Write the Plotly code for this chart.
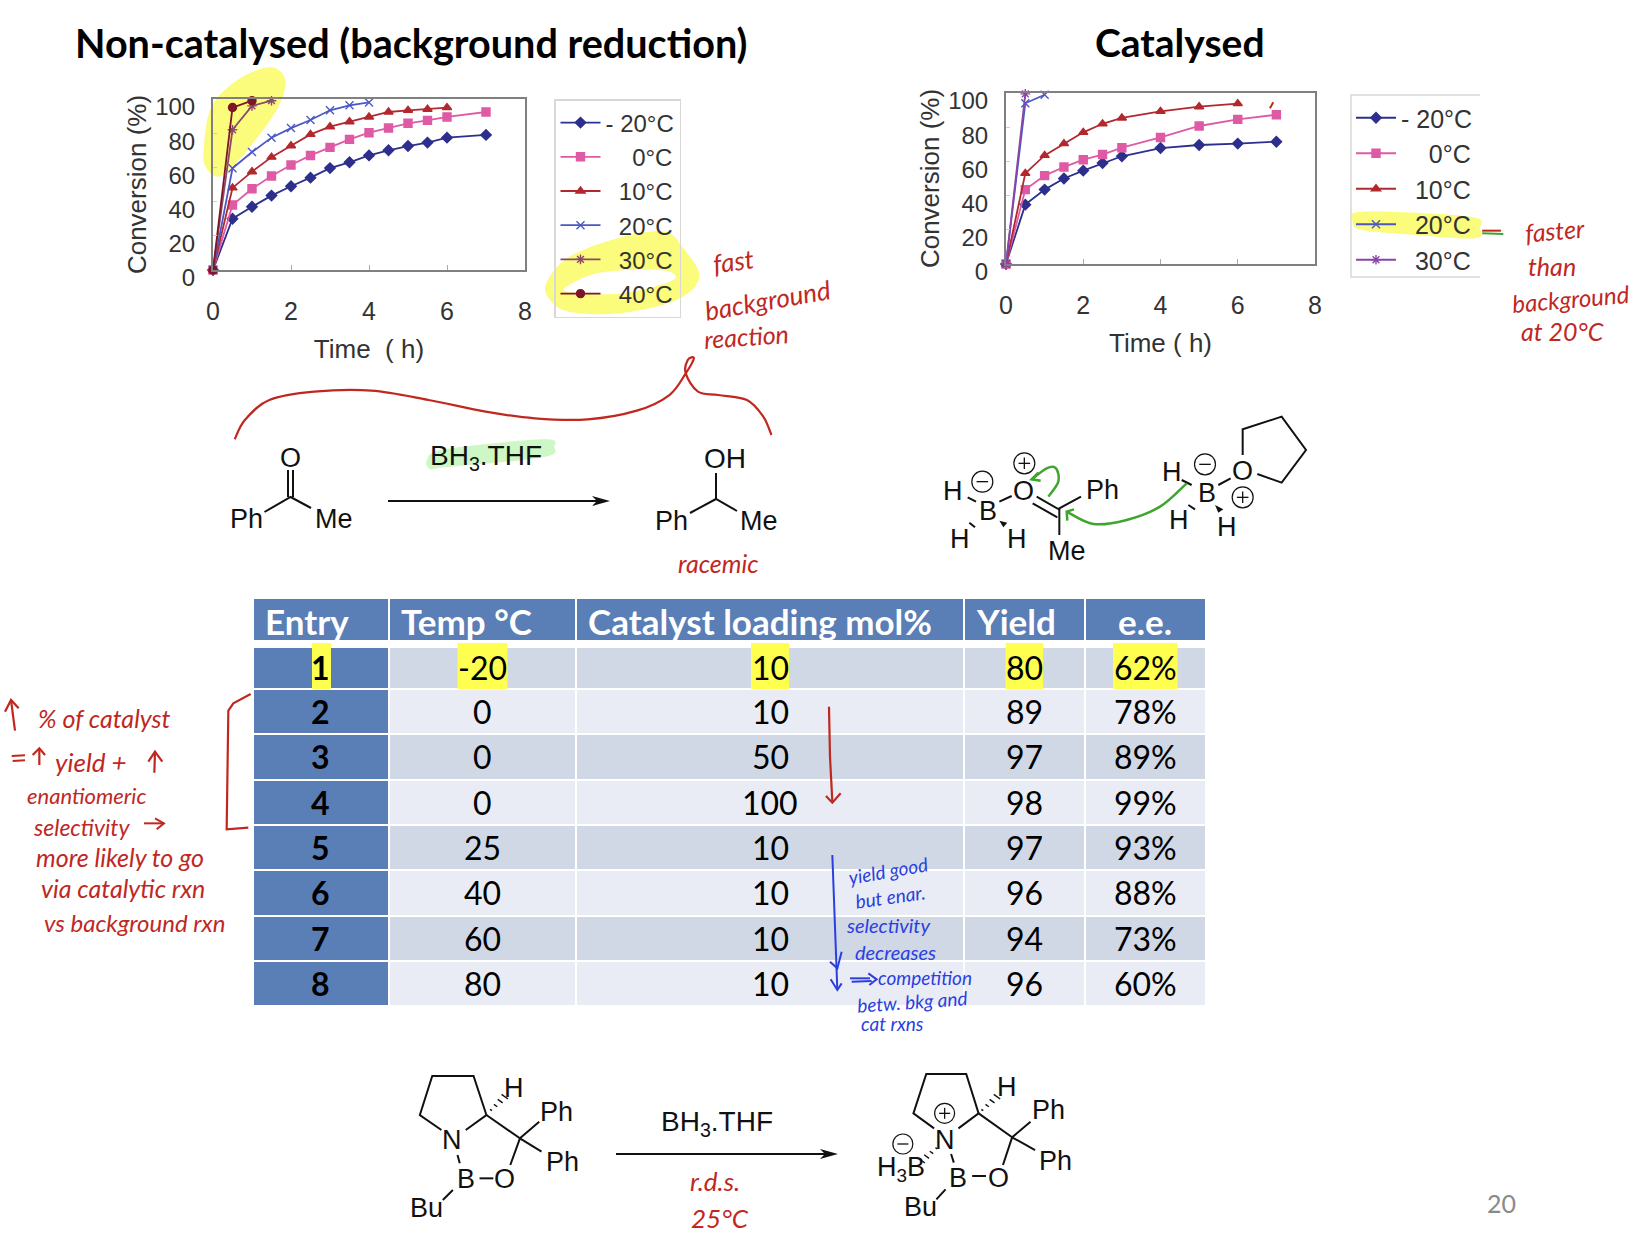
import plotly.graph_objects as go

W, H = 1636, 1240
# ---------- chart data ----------
temps_left = ["-20", "0", "10", "20", "30", "40"]
legend_left = ["-\u00a020°C", "\u00a0\u00a0\u00a0\u00a00°C", "\u00a0\u00a010°C", "\u00a0\u00a020°C", "\u00a0\u00a030°C", "\u00a0\u00a040°C"]
legend_right = ["-\u00a020°C", "\u00a0\u00a0\u00a0\u00a00°C", "\u00a0\u00a010°C", "\u00a0\u00a020°C", "\u00a0\u00a030°C"]
t_a = [0, .5, 1, 1.5, 2, 2.5, 3, 3.5, 4, 4.5, 5, 5.5, 6, 7]
t_b = [0, .5, 1, 1.5, 2, 2.5, 3, 3.5, 4, 4.5, 5, 5.5, 6]
t_c = [0, .5, 1, 1.5, 2, 2.5, 3, 3.5, 4]
t_d = [0, .5, 1, 1.5]
t_e = [0, .5, 1]
left_m20 = [0, 30, 37, 43.5, 49, 54, 59.6, 63, 67, 70, 72.5, 74.5, 77.4, 79]
left_0 = [0, 38, 47.5, 55, 61.4, 67, 71.7, 76.4, 80.3, 83, 85.8, 87.5, 89.5, 92.4]
left_10 = [0, 48, 57.5, 66, 72.7, 79.3, 83.8, 86.7, 89.5, 92.4, 93.4, 94, 95]
left_20 = [0, 59.5, 69, 77.4, 83, 87.7, 93.4, 96.3, 98]
left_30 = [0, 82, 96, 99]
left_40 = [0, 95, 99]
t_f = [0, .5, 1, 1.5, 2, 2.5, 3, 4, 5, 6, 7]
t_g = [0, .5, 1, 1.5, 2, 2.5, 3, 4, 5, 6]
t_h = [0, .5, 1]
t_i = [0, .5]
right_m20 = [0, 34.7, 43.5, 50, 54.6, 59, 63, 67.8, 69.6, 70.4, 71.5]
right_0 = [0, 43.5, 51.7, 56.7, 61, 64, 68, 74, 80.7, 84.6, 87.3]
right_10 = [0, 53, 63.5, 70.4, 77, 82, 85.4, 89.3, 92, 93.8]
right_20 = [0, 94, 99]
right_30 = [0, 99.5]
x_ticks = [0, 2, 4, 6, 8]
y_ticks = [0, 20, 40, 60, 80, 100]
# ---------- table data ----------
tbl_head = ["Entry", "Temp °C", "Catalyst loading mol%", "Yield", "e.e."]
tbl_entry = ["1", "2", "3", "4", "5", "6", "7", "8"]
tbl_temp = ["-20", "0", "0", "0", "25", "40", "60", "80"]
tbl_load = ["10", "10", "50", "100", "10", "10", "10", "10"]
tbl_yield = ["80", "89", "97", "98", "97", "96", "94", "96"]
tbl_ee = ["62%", "78%", "89%", "99%", "93%", "88%", "73%", "60%"]

NAVY, PINK, RED, BLUE, BROWN, MAROON, PURPLE = "#2d2f8c", "#df5aa5", "#b3282f", "#4b58c4", "#8a4a6a", "#7d1626", "#8b45a8"
HW_RED, HW_BLUE, GREEN = "#c0281f", "#2a3fe0", "#3ea52d"
AX, BLK = "#333333", "#111111"

def X(x): return x / W
def Y(y): return 1 - y / H

shapes, annos = [], []

def path_str(pts, closed=False, smooth=False):
    p = [(X(a), Y(b)) for a, b in pts]
    s = f"M{p[0][0]:.5f},{p[0][1]:.5f}"
    if smooth:
        n = len(p)
        for i in range(n - 1):
            p0 = p[i - 1] if i > 0 else (p[-1] if closed else p[0])
            p1, p2 = p[i], p[i + 1]
            p3 = p[i + 2] if i + 2 < n else (p[0] if closed else p[-1])
            c1 = (p1[0] + (p2[0] - p0[0]) / 6, p1[1] + (p2[1] - p0[1]) / 6)
            c2 = (p2[0] - (p3[0] - p1[0]) / 6, p2[1] - (p3[1] - p1[1]) / 6)
            s += f" C{c1[0]:.5f},{c1[1]:.5f} {c2[0]:.5f},{c2[1]:.5f} {p2[0]:.5f},{p2[1]:.5f}"
        if closed:
            p0, p1, p2, p3 = p[-2], p[-1], p[0], p[1]
            c1 = (p1[0] + (p2[0] - p0[0]) / 6, p1[1] + (p2[1] - p0[1]) / 6)
            c2 = (p2[0] - (p3[0] - p1[0]) / 6, p2[1] - (p3[1] - p1[1]) / 6)
            s += f" C{c1[0]:.5f},{c1[1]:.5f} {c2[0]:.5f},{c2[1]:.5f} {p2[0]:.5f},{p2[1]:.5f}"
    else:
        s += "".join(f" L{a:.5f},{b:.5f}" for a, b in p[1:])
    return s + (" Z" if closed else "")

def stroke(pts, color=BLK, w=2, smooth=False, layer="above"):
    shapes.append(dict(type="path", path=path_str(pts, smooth=smooth), xref="paper", yref="paper",
                       line=dict(color=color, width=w), layer=layer))

def blob(pts, fill, smooth=True, layer="below"):
    shapes.append(dict(type="path", path=path_str(pts, closed=True, smooth=smooth), xref="paper", yref="paper",
                       fillcolor=fill, line=dict(width=0), layer=layer))

def rect(x0, y0, x1, y1, fill, layer="below"):
    shapes.append(dict(type="rect", x0=X(x0), x1=X(x1), y0=Y(y1), y1=Y(y0), xref="paper", yref="paper",
                       fillcolor=fill, line=dict(width=0), layer=layer))

def txt(x, y, s, size=27, color=BLK, font="Liberation Sans", anchor="center", rot=0):
    annos.append(dict(x=X(x), y=Y(y), xref="paper", yref="paper", text=s, showarrow=False, xanchor=anchor,
                      yanchor="middle", textangle=rot, borderpad=0, borderwidth=0,
                      font=dict(size=size, color=color, family=font)))

def charge(x, y, sign, r=10):
    shapes.append(dict(type="circle", x0=X(x - r), x1=X(x + r), y0=Y(y + r), y1=Y(y - r), xref="paper", yref="paper",
                       line=dict(color=BLK, width=1.2)))
    stroke([(x - r * .55, y), (x + r * .55, y)], BLK, 1.3)
    if sign > 0:
        stroke([(x, y - r * .55), (x, y + r * .55)], BLK, 1.3)

def arrow(x0, x1, y, w=2):
    stroke([(x0, y), (x1 - 6, y)], BLK, w)
    blob([(x1, y), (x1 - 18, y - 5), (x1 - 13, y), (x1 - 18, y + 5)], BLK, smooth=False, layer="above")

def wedge(pts):
    blob(pts, BLK, smooth=False, layer="above")

# ---------- highlights (under the charts) ----------
Z1 = lambda a, b: (110 + a / 2.613, 50 + b / 3)
Z2 = lambda a, b: (900 + a / 2.13, 70 + b / 3)
YEL = "#fbfb7c"
blob([Z1(*p) for p in [(245, 300), (265, 170), (340, 85), (420, 52), (458, 90), (440, 170), (380, 270), (320, 350), (280, 380), (250, 350)]], YEL)
blob([Z1(*p) for p in [(1140, 700), (1200, 620), (1340, 560), (1450, 545), (1495, 590), (1540, 680), (1480, 750), (1330, 790), (1200, 785), (1150, 750)]], YEL)
blob([Z1(*p) for p in [(1190, 712), (1280, 668), (1440, 660), (1472, 690), (1340, 730), (1210, 728)]], "#ffffff")
blob([Z2(*p) for p in [(965, 455), (985, 425), (1215, 440), (1235, 475), (1225, 505), (1100, 495), (985, 480)]], YEL)

# frame of the second legend: its right side is cut off in the source
LEG2 = "#d8d8d8"
stroke([(1480, 95), (1351, 95), (1351, 277), (1480, 277)], LEG2, 1.5, layer="below")

# ---------- titles ----------
txt(411, 42, "<b>Non-catalysed (background reduction)</b>", 39.6, "#000000", "Lato")
txt(1180, 42, "<b>Catalysed</b>", 39, "#000000", "Lato")

# ---------- handwriting: first chart ----------
HW = "Lato"
txt(733, 261, "<i>fast</i>", 26, HW_RED, HW, rot=-8)
txt(767, 300, "<i>background</i>", 26, HW_RED, HW, rot=-10)
txt(746, 336, "<i>reaction</i>", 25, HW_RED, HW, rot=-4)
txt(1555, 230, "<i>faster</i>", 25, HW_RED, HW, rot=-5)
txt(1552, 266, "<i>than</i>", 25, HW_RED, HW)
txt(1570, 298, "<i>background</i>", 24, HW_RED, HW, rot=-5)
txt(1562, 331, "<i>at 20°C</i>", 25, HW_RED, HW)
stroke([Z2(1240, 482), Z2(1280, 482)], HW_RED, 2)
stroke([Z2(1240, 490), Z2(1285, 492)], GREEN, 2)
stroke([Z2(795, 97), Z2(788, 115)], HW_RED, 2)

# ---------- top reaction ----------
Z3 = lambda a, b: (200 + a / 2.45, 350 + b / 3)
stroke([Z3(*p) for p in [(85, 268), (110, 210), (170, 150), (280, 125), (420, 122), (560, 150), (700, 185), (820, 205), (950, 208), (1070, 182), (1150, 135), (1190, 70), (1210, 25), (1195, 30), (1190, 70), (1220, 125), (1270, 135), (1340, 150), (1380, 200), (1400, 255)]], HW_RED, 2.2, smooth=True)
blob([Z3(*p) for p in [(556, 330), (600, 298), (840, 268), (868, 290), (840, 322), (600, 352), (565, 358)]], "#cdf7c4")
txt(486, 457, "BH<sub>3</sub>.THF", 28)
txt(290.6, 458, "O", 27)
stroke([(288, 470), (288, 497)], BLK, 2); stroke([(293, 470), (293, 497)], BLK, 2)
stroke([(264.5, 512), (290.6, 497), (311, 508)], BLK, 2)
txt(246, 519, "Ph"); txt(334, 519, "Me")
arrow(388, 610, 501)
txt(725, 459, "OH", 28)
stroke([(716, 473), (716, 499)], BLK, 2)
stroke([(690, 513), (716, 499), (737, 511)], BLK, 2)
txt(671, 521, "Ph"); txt(759, 521, "Me")
txt(718, 563, "<i>racemic</i>", 25, HW_RED, HW)

# ---------- mechanism ----------
Z4 = lambda a, b: (920 + a / 3, 400 + b / 3)
def s4(*pts, c=BLK, w=2, smooth=False): stroke([Z4(*p) for p in pts], c, w, smooth)
def t4(a, b, s, size=27):
    x, y = Z4(a, b); txt(x, y, s, size)
def c4(a, b, sign):
    x, y = Z4(a, b); charge(x, y, sign, 10.5)
t4(100, 272, "H"); t4(205, 332, "B"); t4(120, 418, "H"); t4(292, 418, "H"); t4(310, 272, "O"); t4(547, 270, "Ph"); t4(442, 452, "Me")
c4(187, 245, -1); c4(313, 190, 1)
s4((143, 292), (168, 305)); s4((238, 305), (275, 288)); s4((338, 310), (412, 352)); s4((350, 290), (420, 330))
s4((483, 290), (418, 325), (418, 405)); s4((148, 368), (165, 382))
wedge([Z4(238, 362), Z4(262, 368), Z4(250, 382)])
t4(755, 215, "H"); t4(862, 278, "B"); t4(968, 213, "O"); t4(778, 360, "H"); t4(922, 382, "H")
c4(855, 193, -1); c4(968, 292, 1)
s4((785, 240), (815, 255)); s4((895, 255), (932, 235)); s4((805, 315), (825, 328))
wedge([Z4(885, 315), Z4(910, 328), Z4(895, 338)])
s4((968, 165), (968, 88), (1085, 50), (1158, 150), (1085, 248), (1012, 222))
s4((385, 290), (415, 245), (408, 205), (380, 205), (335, 238), c=GREEN, w=2.5, smooth=True)
s4((355, 218), (335, 238), (362, 242), c=GREEN, w=2.5)
s4((800, 250), (720, 320), (620, 360), (520, 372), (440, 335), c=GREEN, w=2.5, smooth=True)
s4((462, 328), (440, 335), (442, 362), c=GREEN, w=2.5)

# ---------- table ----------
cols = [254, 389, 576, 964, 1085, 1206]
rows = [(648, 688), (690, 733), (735, 779), (781, 824), (826, 869), (871, 915), (917, 960), (962, 1005)]
centers = [320, 482, 770, 1024, 1145]
for i in range(5):
    rect(cols[i] + (1 if i else 0), 599, cols[i + 1] - 1, 640, "#5a7eb6")
    for j, (a, b) in enumerate(rows):
        rect(cols[i] + (1 if i else 0), a, cols[i + 1] - 1, b,
             "#5a7eb6" if i == 0 else ("#d0d8e6" if j % 2 == 0 else "#e9ecf4"))
for a, b in [(312, 331), (457.5, 507.5), (751, 789), (1005.6, 1043), (1113, 1177.5)]:
    rect(a, 643, b, 689, "#ffff4f")
for s, x, anc in zip(tbl_head, [265, 401, 588, 976, 1145], ["left", "left", "left", "left", "center"]):
    txt(x, 621, f"<b>{s}</b>", 35, "#ffffff", "Lato", anc)
for j, (a, b) in enumerate(rows):
    yc = (a + b) / 2 - 0.5
    txt(centers[0], yc, f"<b>{tbl_entry[j]}</b>", 32, "#000000", "Lato")
    for c, arr in zip(centers[1:], [tbl_temp, tbl_load, tbl_yield, tbl_ee]):
        txt(c, yc, arr[j], 32, "#000000", "Lato")

# ---------- table notes ----------
Z5 = lambda a, b: (a / 3, 680 + b / 3)
stroke([Z5(*p) for p in [(752, 42), (700, 70), (685, 92), (680, 448), (745, 443)]], HW_RED, 2.2)
stroke([Z5(45, 152), Z5(33, 60)], HW_RED, 2.2); stroke([Z5(15, 95), Z5(33, 60), Z5(56, 85)], HW_RED, 2.2)
stroke([Z5(463, 278), Z5(465, 215)], HW_RED, 2.2); stroke([Z5(445, 245), Z5(465, 215), Z5(487, 245)], HW_RED, 2.2)
stroke([Z5(118, 255), Z5(118, 205)], HW_RED, 2.2); stroke([Z5(98, 225), Z5(118, 205), Z5(135, 225)], HW_RED, 2.2)
stroke([Z5(35, 228), Z5(75, 226)], HW_RED, 2); stroke([Z5(38, 243), Z5(75, 241)], HW_RED, 2)
stroke([Z5(432, 430), Z5(492, 430)], HW_RED, 2); stroke([Z5(465, 415), Z5(492, 430), Z5(470, 448)], HW_RED, 2)
txt(38, 718, "<i>% of catalyst</i>", 25, HW_RED, HW, "left")
txt(55, 762, "<i>yield +</i>", 26, HW_RED, HW, "left")
txt(27, 795, "<i>enantiomeric</i>", 22, HW_RED, HW, "left")
txt(33, 827, "<i>selectivity</i>", 23, HW_RED, HW, "left")
txt(36, 857, "<i>more likely to go</i>", 25, HW_RED, HW, "left")
txt(41, 888, "<i>via catalytic rxn</i>", 25, HW_RED, HW, "left")
txt(44, 922, "<i>vs background rxn</i>", 24, HW_RED, HW, "left")
Z6 = lambda a, b: (800 + a / 3, 690 + b / 3)
stroke([Z6(87, 50), Z6(90, 200), Z6(97, 335)], HW_RED, 2.2)
stroke([Z6(78, 318), Z6(97, 338), Z6(122, 310)], HW_RED, 2.2)
stroke([Z6(97, 495), Z6(112, 900)], HW_BLUE, 2)
stroke([Z6(90, 815), Z6(112, 835), Z6(125, 785)], HW_BLUE, 2)
stroke([Z6(92, 868), Z6(112, 900), Z6(125, 880)], HW_BLUE, 2)
stroke([Z6(150, 865), Z6(210, 865)], HW_BLUE, 2); stroke([Z6(155, 875), Z6(215, 873)], HW_BLUE, 2)
stroke([Z6(205, 850), Z6(230, 868), Z6(208, 885)], HW_BLUE, 2)
txt(888, 870, "<i>yield good</i>", 19, HW_BLUE, HW, rot=-10)
txt(890, 896, "<i>but enar.</i>", 19, HW_BLUE, HW, rot=-8)
txt(888, 925, "<i>selectivity</i>", 20, HW_BLUE, HW)
txt(895, 952, "<i>decreases</i>", 20, HW_BLUE, HW)
txt(925, 977, "<i>competition</i>", 19, HW_BLUE, HW)
txt(912, 1001, "<i>betw. bkg and</i>", 19, HW_BLUE, HW, rot=-4)
txt(892, 1023, "<i>cat rxns</i>", 19, HW_BLUE, HW)

# ---------- bottom reaction ----------
Z7 = lambda a, b: (390 + a / 2.178, 1050 + b / 3)
def s7(*pts, w=2): stroke([Z7(*p) for p in pts], BLK, w)
def t7(a, b, s, size=27, c=BLK):
    x, y = Z7(a, b); txt(x, y, s, size, c)
def hash7(a, b, n=4):
    for k in range(n):
        f = k / (n - 1)
        mx, my = a[0] + (b[0] - a[0]) * f, a[1] + (b[1] - a[1]) * f
        h = 2 + 5 * f
        s7((mx - h, my - h), (mx + h, my + h), w=1.4)
s7((112, 240), (65, 195), (92, 78), (182, 78), (210, 195), (165, 240))
s7((210, 195), (283, 265), (325, 215)); s7((283, 265), (330, 305)); s7((283, 265), (262, 345))
s7((195, 385), (225, 385)); s7((147, 315), (152, 340)); s7((137, 420), (115, 450))
hash7((220, 180), (250, 140))
t7(270, 113, "H"); t7(362, 185, "Ph"); t7(375, 335, "Ph"); t7(135, 270, "N"); t7(165, 388, "B"); t7(250, 388, "O"); t7(80, 475, "Bu")
arrow(616, 838, 1154)
t7(712, 220, "BH<sub>3</sub>.THF", 28)
x, y = Z7(708, 392); txt(x, y, "<i>r.d.s.</i>", 26, HW_RED, HW)
x, y = Z7(718, 503); txt(x, y, "<i>25°C</i>", 26, HW_RED, HW)
s7((1185, 235), (1140, 190), (1168, 72), (1255, 72), (1282, 190), (1238, 235))
s7((1282, 190), (1355, 262), (1395, 215)); s7((1355, 262), (1405, 300)); s7((1355, 262), (1335, 345))
s7((1268, 378), (1298, 378)); s7((1222, 312), (1228, 338)); s7((1210, 418), (1190, 448))
hash7((1290, 180), (1322, 140)); hash7((1190, 295), (1158, 332))
t7(1343, 110, "H"); t7(1435, 180, "Ph"); t7(1450, 332, "Ph"); t7(1208, 270, "N"); t7(1238, 385, "B"); t7(1325, 385, "O"); t7(1155, 472, "Bu")
t7(1112, 358, "H<sub>3</sub>B")
x, y = Z7(1117, 282); charge(x, y, -1, 10)
x, y = Z7(1208, 190); charge(x, y, 1, 10)
txt(1501, 1203, "20", 25, "#8a8a8a", "Lato")

# ---------- figure ----------
fig = go.Figure()
def series(xs, ys, name, color, sym, xa, ya, leg, msize=8):
    fig.add_trace(go.Scatter(x=xs, y=ys, name=name, mode="lines+markers", xaxis=xa, yaxis=ya, legend=leg, cliponaxis=False,
                             line=dict(color=color, width=1.8),
                             marker=dict(symbol=sym, size=msize, color=color, line=dict(color=color, width=1.4))))
left = [(t_a, left_m20, NAVY, "diamond"), (t_a, left_0, PINK, "square"), (t_b, left_10, RED, "triangle-up"),
        (t_c, left_20, BLUE, "x-thin"), (t_d, left_30, BROWN, "asterisk"), (t_e, left_40, MAROON, "circle")]
for (xs, ys, c, sym), nm in zip(left, legend_left):
    series(xs, ys, nm, c, sym, "x", "y", "legend")
right = [(t_f, right_m20, NAVY, "diamond"), (t_f, right_0, PINK, "square"), (t_g, right_10, RED, "triangle-up"),
         (t_h, right_20, BLUE, "x-thin"), (t_i, right_30, PURPLE, "asterisk")]
for (xs, ys, c, sym), nm in zip(right, legend_right):
    series(xs, ys, nm, c, sym, "x2", "y2", "legend2")

def xaxis(d, anchor, title, standoff):
    return dict(domain=d, anchor=anchor, range=[0, 8], tickvals=x_ticks, ticks="inside", ticklen=5, tickcolor="#aaaaaa",
                showgrid=False, zeroline=False, showline=True, mirror=True, linecolor="#808080", linewidth=2,
                ticklabelstandoff=18, tickfont=dict(size=25, color=AX, family="Liberation Sans"),
                title=dict(text=title, standoff=standoff, font=dict(size=26, color=AX, family="Liberation Sans")))
def yaxis(d, anchor, standoff):
    return dict(domain=d, anchor=anchor, range=[0, 100], tickvals=y_ticks, ticks="inside", ticklen=4, tickcolor="#cccccc",
                showgrid=False, zeroline=False, showline=True, mirror=True, linecolor="#808080", linewidth=2,
                ticklabelstandoff=11, ticklabelshift=8, tickfont=dict(size=24, color=AX, family="Liberation Sans"),
                title=dict(text="Conversion (%)", standoff=standoff, font=dict(size=26, color=AX, family="Liberation Sans")))

leg_common = dict(bgcolor="rgba(0,0,0,0)", xanchor="left", yanchor="top", xref="paper", yref="paper", itemwidth=40)
fig.update_layout(
    width=W, height=H, margin=dict(l=0, r=0, t=0, b=0, autoexpand=False), paper_bgcolor="#ffffff", plot_bgcolor="rgba(0,0,0,0)",
    showlegend=True, autosize=False,
    xaxis=xaxis([213 / W, 525 / W], "y", "Time\u00a0\u00a0(\u00a0h)\u00a0\u00a0\u00a0\u00a0", 16),
    yaxis=yaxis([1 - 270 / H, 1 - 99 / H], "x", 1),
    xaxis2=xaxis([1006 / W, 1315 / W], "y2", "Time\u00a0(\u00a0h)\u00a0", 16),
    yaxis2=yaxis([1 - 264 / H, 1 - 93 / H], "x2", 1),
    legend=dict(x=554 / W, y=1 - 99 / H, bordercolor="#d8d8d8", borderwidth=1.5,
                font=dict(size=24, color=AX, family="Liberation Sans"), **leg_common),
    legend2=dict(x=1351 / W, y=1 - 95 / H, borderwidth=0,
                 font=dict(size=25, color=AX, family="Liberation Sans"), **leg_common),
    shapes=shapes, annotations=annos,
)
fig.write_html("out.html", config=dict(displayModeBar=False), post_script="document.body.style.margin='0';")
